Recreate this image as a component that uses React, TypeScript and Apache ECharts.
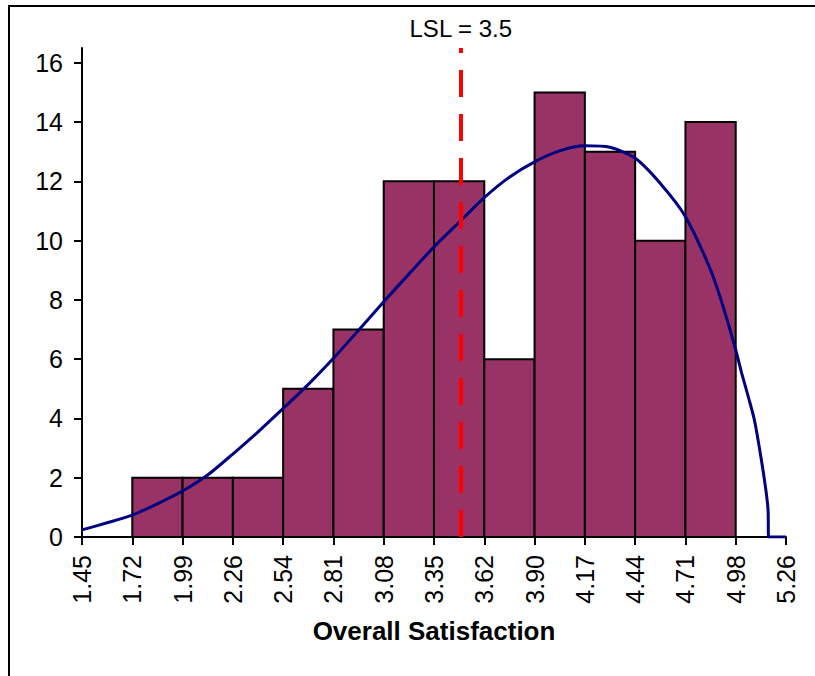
import React, { useEffect, useRef } from "react";
import * as echarts from "echarts";

// ---- data ----
const binLabels = ["1.45", "1.72", "1.99", "2.26", "2.54", "2.81", "3.08", "3.35", "3.62", "3.90", "4.17", "4.44", "4.71", "4.98", "5.26"];
const binCounts = [0, 2, 2, 2, 5, 7, 12, 12, 6, 15, 13, 10, 14, 0];
const xStart = 1.45;
const xEnd = 5.26;
const yMax = 16.5;
const yTickValues = [0, 2, 4, 6, 8, 10, 12, 14, 16];
const curveX = [1.45, 1.586, 1.722, 1.858, 1.994, 2.13, 2.266, 2.403, 2.539, 2.675, 2.811, 2.947, 3.083, 3.219, 3.355, 3.491, 3.627, 3.763, 3.899, 4.035, 4.171, 4.307, 4.444, 4.58, 4.716, 4.852, 4.92, 4.988, 5.02, 5.056, 5.089, 5.124, 5.151, 5.163, 5.166, 5.26];
const curveY = [0.24, 0.48, 0.74, 1.12, 1.55, 2.09, 2.8, 3.55, 4.34, 5.15, 6.03, 6.98, 7.94, 8.87, 9.79, 10.62, 11.45, 12.14, 12.66, 13.03, 13.2, 13.15, 12.78, 11.93, 10.81, 9.01, 7.77, 6.31, 5.53, 4.73, 3.95, 2.71, 1.59, 0.9, 0, 0];
const lslValue = 3.5;
const lslText = "LSL = 3.5";
const xTitle = "Overall Satisfaction";

const FONT = "'Liberation Sans', Arial, Helvetica, sans-serif";

export default function App() {
  const ref = useRef<HTMLDivElement>(null);
  useEffect(() => {
    if (!ref.current) return;
    const chart = echarts.init(ref.current, null, { renderer: "svg" });
    const binW = (xEnd - xStart) / binCounts.length;
    const edges = binLabels.map((_, i) => xStart + i * binW);
    const barData = binCounts.map((c, i) => [edges[i], edges[i + 1], c]);
    const curveData = curveX.map((x, i) => [x, curveY[i]]);

    chart.setOption({
      animation: false,
      backgroundColor: "#ffffff",
      grid: { left: 82, right: 29, top: 48, bottom: 139 },
      xAxis: {
        type: "value",
        min: xStart,
        max: xEnd,
        name: xTitle,
        nameLocation: "middle",
        nameGap: 81,
        nameTextStyle: { fontFamily: FONT, fontSize: 26, fontWeight: "bold", color: "#000" },
        axisLine: { show: true, onZero: false, lineStyle: { color: "#000", width: 2 } },
        axisTick: { show: true, length: 8, customValues: edges, lineStyle: { color: "#000", width: 2 } },
        axisLabel: {
          customValues: edges,
          rotate: 90,
          margin: 18,
          fontSize: 25,
          fontFamily: FONT,
          color: "#000",
          formatter: (v: number) => binLabels[Math.round((v - xStart) / binW)] ?? "",
        },
        splitLine: { show: false },
      },
      yAxis: {
        type: "value",
        min: 0,
        max: yMax,
        axisLine: { show: true, lineStyle: { color: "#000", width: 2 } },
        axisTick: { show: true, length: 8, customValues: yTickValues, lineStyle: { color: "#000", width: 2 } },
        axisLabel: {
          customValues: yTickValues,
          margin: 19,
          fontSize: 25,
          fontFamily: FONT,
          color: "#000",
        },
        splitLine: { show: false },
      },
      series: [
        {
          type: "custom",
          z: 2,
          encode: { x: [0, 1], y: 2 },
          data: barData,
          renderItem: (params: any, api: any) => {
            const x0 = api.value(0);
            const x1 = api.value(1);
            const c = api.value(2);
            if (!c) return null;
            const p0 = api.coord([x0, c]);
            const p1 = api.coord([x1, 0]);
            return {
              type: "rect",
              shape: { x: p0[0], y: p0[1], width: p1[0] - p0[0], height: p1[1] - p0[1] },
              style: { fill: "#993366", stroke: "#000", lineWidth: 2 },
            };
          },
        },
        {
          type: "line",
          z: 3,
          data: curveData,
          showSymbol: false,
          smooth: 0.25,
          lineStyle: { color: "#000080", width: 3 },
        },
        {
          type: "line",
          z: 4,
          data: [],
          markLine: {
            silent: true,
            symbol: ["none", "none"],
            lineStyle: { color: "#ff0000", width: 4, type: [27, 17] },
            label: {
              show: true,
              position: "end",
              distance: 8,
              formatter: lslText,
              fontSize: 24,
              fontFamily: FONT,
              color: "#000",
            },
            data: [[{ coord: [lslValue, 0] }, { coord: [lslValue, yMax] }]],
          },
        },
      ],
      graphic: [
        {
          type: "rect",
          silent: true,
          shape: { x: 9, y: 6, width: 900, height: 800 },
          style: { fill: "none", stroke: "#000", lineWidth: 2 },
          z: 100,
        },
      ],
    });
    return () => chart.dispose();
  }, []);
  return (
    <div
      ref={ref}
      style={{ position: "absolute", left: 0, top: 0, width: 815, height: 676 }}
    />
  );
}
